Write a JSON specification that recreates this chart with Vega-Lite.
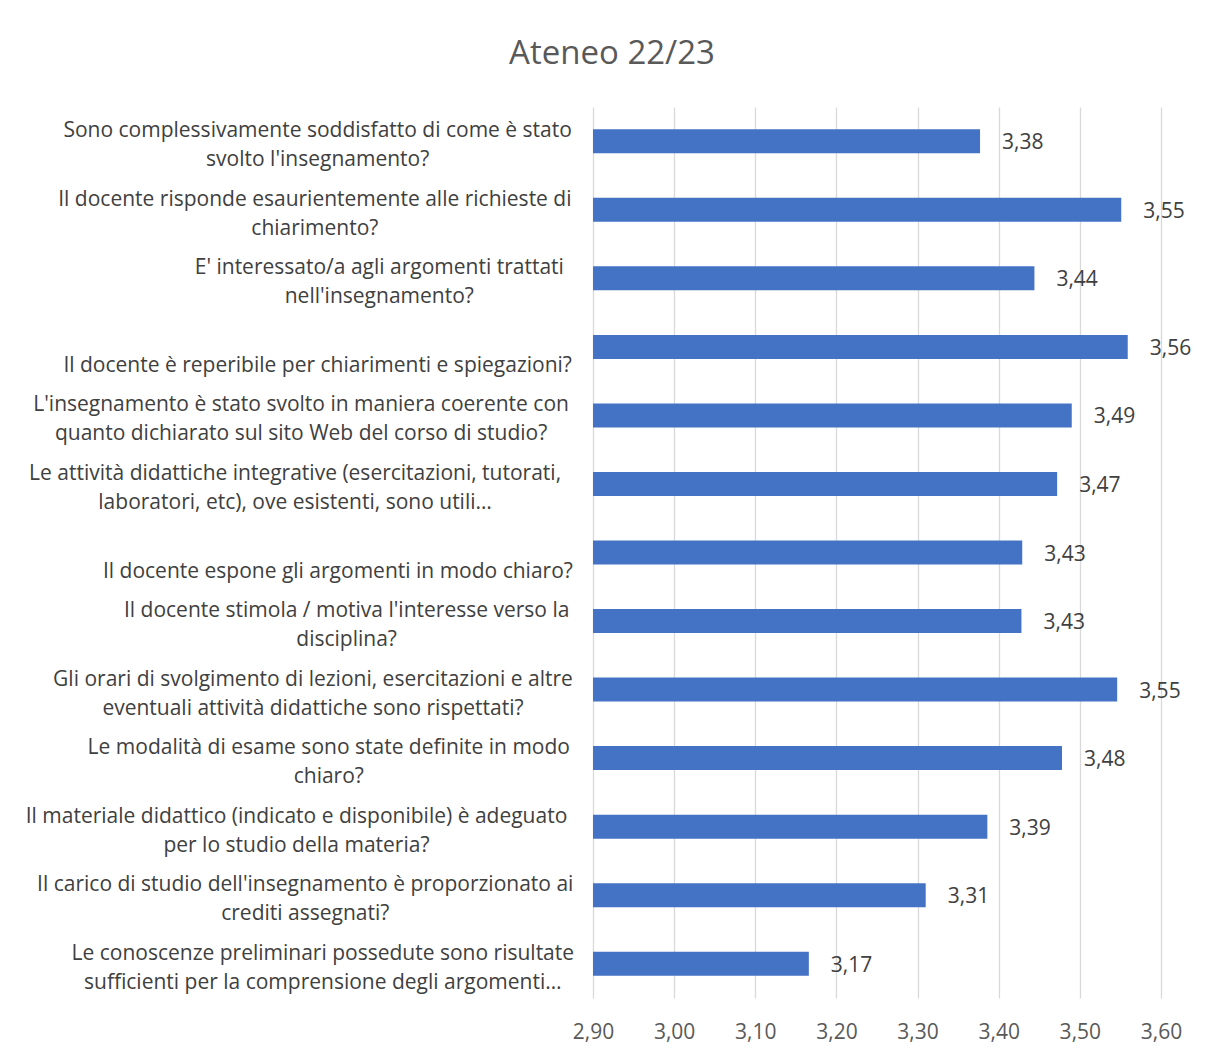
{
  "$schema": "https://vega.github.io/schema/vega-lite/v6.json",
  "width": 568,
  "height": 891,
  "autosize": {"type": "none"},
  "padding": {"left": 593, "top": 107, "right": 52, "bottom": 54},
  "background": "white",
  "title": {
    "text": "Ateneo 22/23",
    "anchor": "middle",
    "dx": -265,
    "offset": 10,
    "baseline": "alphabetic",
    "font": "Open Sans",
    "fontSize": 33,
    "fontWeight": "normal",
    "color": "#595959"
  },
  "config": {
    "view": {"stroke": null},
    "font": "Open Sans",
    "locale": {"number": {"decimal": ",", "thousands": ".", "grouping": [3], "currency": ["", " €"]}}
  },
  "data": {
    "values": [
      {"domanda": "Sono complessivamente soddisfatto di come è stato|svolto l'insegnamento?", "media": 3.377},
      {"domanda": "Il docente risponde esaurientemente alle richieste di|chiarimento?", "media": 3.551},
      {"domanda": "E' interessato/a agli argomenti trattati|nell'insegnamento?", "media": 3.444},
      {"domanda": "|Il docente è reperibile per chiarimenti e spiegazioni?", "media": 3.559},
      {"domanda": "L'insegnamento è stato svolto in maniera coerente con|quanto dichiarato sul sito Web del corso di studio?", "media": 3.49},
      {"domanda": "Le attività didattiche integrative (esercitazioni, tutorati,|laboratori, etc), ove esistenti, sono utili…", "media": 3.472},
      {"domanda": "|Il docente espone gli argomenti in modo chiaro?", "media": 3.429},
      {"domanda": "Il docente stimola / motiva l'interesse verso la|disciplina?", "media": 3.428},
      {"domanda": "Gli orari di svolgimento di lezioni, esercitazioni e altre|eventuali attività didattiche sono rispettati?", "media": 3.546},
      {"domanda": "Le modalità di esame sono state definite in modo|chiaro?", "media": 3.478},
      {"domanda": "Il materiale didattico (indicato e disponibile) è adeguato|per lo studio della materia?", "media": 3.386},
      {"domanda": "Il carico di studio dell'insegnamento è proporzionato ai|crediti assegnati?", "media": 3.31},
      {"domanda": "Le conoscenze preliminari possedute sono risultate|sufficienti per la comprensione degli argomenti…", "media": 3.166}
    ]
  },
  "encoding": {
    "y": {
      "field": "domanda",
      "type": "nominal",
      "sort": null,
      "title": null,
      "scale": {"paddingInner": 0.65, "paddingOuter": 0.325},
      "axis": {
        "domain": false,
        "ticks": false,
        "grid": false,
        "labels": false
      }
    }
  },
  "layer": [
    {
      "mark": {"type": "bar", "color": "#4472c4", "clip": true},
      "encoding": {
        "x": {
          "field": "media",
          "type": "quantitative",
          "title": null,
          "scale": {"domain": [2.9, 3.6], "zero": false, "nice": false},
          "axis": {
            "values": [2.9, 3.0, 3.1, 3.2, 3.3, 3.4, 3.5, 3.6],
            "format": ".2f",
            "domain": false,
            "ticks": false,
            "grid": true,
            "gridColor": "#d9d9d9",
            "gridWidth": 1.3,
            "labelFlush": false,
            "labelPadding": 23,
            "labelFont": "Open Sans",
            "labelFontSize": 21,
            "labelColor": "#595959"
          }
        }
      }
    },
    {
      "mark": {"type": "text", "align": "left", "baseline": "middle", "dx": 22, "dy": 2, "font": "Open Sans", "fontSize": 21, "color": "#404040"},
      "encoding": {
        "x": {"field": "media", "type": "quantitative"},
        "text": {"field": "media", "type": "quantitative", "format": ".2f"}
      }
    },
    {
      "mark": {
        "type": "text",
        "align": "center",
        "baseline": "middle",
        "lineHeight": 29,
        "dy": -10,
        "font": "Open Sans",
        "fontSize": 21,
        "color": "#404040",
        "text": {"expr": "split(datum.domanda, '|')"},
        "dx": {"expr": "-24 - 10.7 * max(0.58*length(split(datum.domanda, '|')[0]) - 0.34*length(replace(split(datum.domanda, '|')[0], regexp(\"[^ilj'., I]\", \"g\"), '')) - 0.18*length(replace(split(datum.domanda, '|')[0], regexp(\"[^tfr()?szc/]\", \"g\"), '')) + 0.27*length(replace(split(datum.domanda, '|')[0], regexp(\"[^mwMW…]\", \"g\"), '')), 0.58*length(split(datum.domanda, '|')[1]) - 0.34*length(replace(split(datum.domanda, '|')[1], regexp(\"[^ilj'., I]\", \"g\"), '')) - 0.18*length(replace(split(datum.domanda, '|')[1], regexp(\"[^tfr()?szc/]\", \"g\"), '')) + 0.27*length(replace(split(datum.domanda, '|')[1], regexp(\"[^mwMW…]\", \"g\"), '')))"}
      },
      "encoding": {
        "x": {"datum": 2.9, "type": "quantitative"}
      }
    }
  ]
}
